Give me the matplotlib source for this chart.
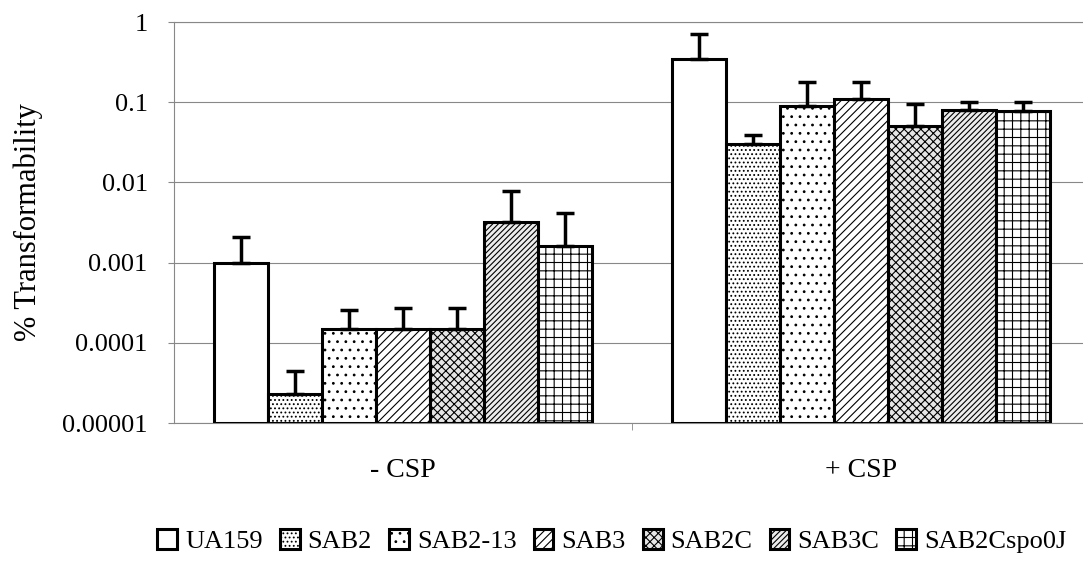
import numpy as np
import matplotlib.pyplot as plt
from matplotlib.ticker import FixedLocator, FixedFormatter

conditions = ['- CSP', '+ CSP']
strains = ['UA159', 'SAB2', 'SAB2-13', 'SAB3', 'SAB2C', 'SAB3C', 'SAB2Cspo0J']

# mean % transformability, per strain: [-CSP, +CSP]
means = {
    'UA159':      [0.001,   0.35],
    'SAB2':       [2.3e-5,  0.030],
    'SAB2-13':    [1.5e-4,  0.089],
    'SAB3':       [1.5e-4,  0.11],
    'SAB2C':      [1.5e-4,  0.050],
    'SAB3C':      [3.2e-3,  0.081],
    'SAB2Cspo0J': [1.6e-3,  0.077],
}
# top of the upper error bar
err_top = {
    'UA159':      [0.0021,  0.70],
    'SAB2':       [4.5e-5,  0.039],
    'SAB2-13':    [2.6e-4,  0.18],
    'SAB3':       [2.7e-4,  0.18],
    'SAB2C':      [2.7e-4,  0.094],
    'SAB3C':      [7.8e-3,  0.10],
    'SAB2Cspo0J': [4.1e-3,  0.10],
}

yticks = [1e-5, 1e-4, 1e-3, 1e-2, 1e-1, 1]
ytick_labels = ['0.00001', '0.0001', '0.001', '0.01', '0.1', '1']

hatches = ['', '....', '..', '////', 'xxxx', '//////', '++']
faces = ['white', 'white', 'white', 'white', '#e6e6e6', '#ececec', 'white']

plt.rcParams.update({
    'font.family': 'Liberation Serif',
    'font.size': 19,
    'hatch.linewidth': 0.8,
})

fig = plt.figure(figsize=(10.83, 5.65), dpi=100)
ax = fig.add_axes([0.1607, 0.2513, 0.8458, 0.7097])

x = np.arange(len(conditions))
w = 0.118
base = 1e-5
for i, s in enumerate(strains):
    xs = x + (i - 3) * w
    vals = np.array(means[s])
    tops = np.array(err_top[s])
    ax.bar(xs, vals - base, bottom=base, width=w, color=faces[i],
           edgecolor='black', linewidth=2.2, hatch=hatches[i], label=s, zorder=3)
    ax.errorbar(xs, vals, yerr=[np.zeros_like(vals), tops - vals], fmt='none',
                ecolor='black', elinewidth=2.5, capsize=6.5, capthick=2.5, zorder=4)

ax.set_yscale('log')
ax.set_ylim(1e-5, 1)
ax.yaxis.set_major_locator(FixedLocator(yticks))
ax.yaxis.set_major_formatter(FixedFormatter(ytick_labels))
ax.yaxis.set_minor_locator(FixedLocator([]))
ax.set_xlim(-0.5, 1.5)
ax.set_xticks(x)
ax.set_xticklabels(conditions, fontsize=20)
ax.set_xticks([0.5], minor=True)
ax.tick_params(axis='x', which='major', length=0, pad=25)
ax.tick_params(axis='x', which='minor', length=5, direction='out', color='#888888')
ax.tick_params(axis='y', length=4, direction='out', color='#888888', pad=15)
ax.grid(True, axis='y', color='#888888', linewidth=0.8, zorder=0)
for sp in ax.spines.values():
    sp.set_color('#888888')
    sp.set_linewidth(0.8)

ax.set_ylabel('% Transformability', fontsize=22, labelpad=14)

fig.legend(loc='center', bbox_to_anchor=(0.565, 0.042), ncol=7, frameon=False,
           handlelength=0.75, handleheight=0.75, handletextpad=0.3,
           columnspacing=0.65, fontsize=19)

fig.savefig('out.png', dpi=100)
